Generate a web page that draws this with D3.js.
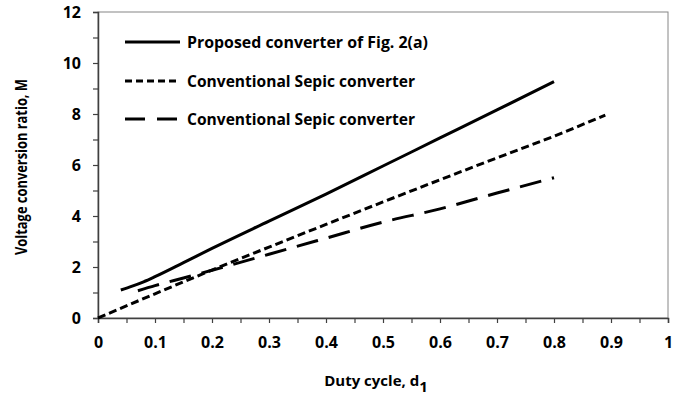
<html>
<head>
  <script src="https://d3js.org/d3.v7.min.js"></script>
  <style>
    body { margin: 0; background: #fff; }
    text { font-family: "Open Sans", sans-serif; font-weight: bold; fill: #000; }
  </style>
</head>
<body>
  <svg id="chart" width="698" height="397"></svg>
  <script>
    // duty cycle values and conversion ratios
    const proposedD = [0.04, 0.06, 0.08, 0.1, 0.15, 0.2, 0.3, 0.4, 0.5, 0.6, 0.7, 0.8];
    const proposedM = [1.1, 1.25, 1.42, 1.62, 2.17, 2.73, 3.8, 4.86, 5.96, 7.06, 8.16, 9.27];

    const sepicD = [0, 0.1, 0.2, 0.3, 0.4, 0.5, 0.6, 0.7, 0.8, 0.89];
    const sepicM = [0, 0.95, 1.88, 2.78, 3.67, 4.55, 5.42, 6.28, 7.13, 7.96];

    const sepic2D = [0.07, 0.1, 0.15, 0.2, 0.3, 0.4, 0.5, 0.6, 0.7, 0.8];
    const sepic2M = [1.07, 1.27, 1.57, 1.87, 2.5, 3.13, 3.76, 4.28, 4.9, 5.5];

    const seriesNames = ["Proposed converter of Fig. 2(a)", "Conventional Sepic converter", "Conventional Sepic converter"];
    const dashes = [null, "8,4", "22,11"];
    const legendDashes = [null, "7,4", "20,12"];

    const xTicks = d3.range(0, 11).map(i => i / 10);
    const yTicks = d3.range(0, 13, 2);

    const svg = d3.select("svg#chart");
    const margins = { top: 12, right: 30, bottom: 79, left: 98 };
    const width = 698, height = 397;

    const xScale = d3.scaleLinear().domain([0, 1]).range([margins.left, width - margins.right]);
    const yScale = d3.scaleLinear().domain([0, 12]).range([height - margins.bottom, margins.top]);

    // frame (top and right)
    svg.append("rect")
      .attr("x", xScale(0)).attr("y", yScale(12))
      .attr("width", xScale(1) - xScale(0)).attr("height", yScale(0) - yScale(12))
      .attr("fill", "none").attr("stroke", "#868686").attr("stroke-width", 1);

    // x axis: labels every 0.1, ticks every 0.05
    const xAxis = d3.axisBottom(xScale)
      .tickValues(d3.range(0, 21).map(i => i / 20))
      .tickSize(5)
      .tickFormat(d => xTicks.some(t => Math.abs(t - d) < 1e-9) ? d3.format("~g")(d) : "");
    const gx = svg.append("g")
      .attr("transform", `translate(0,${yScale(0)})`)
      .call(xAxis);
    gx.select(".domain").attr("stroke", "#404040").attr("stroke-width", 1.5);
    gx.selectAll(".tick line").attr("stroke", "#404040").attr("stroke-width", 1.2);
    gx.selectAll(".tick text").attr("y", 19).attr("dy", "0.71em").style("font-size", "16px");

    // y axis: labels every 2, ticks every 1
    const yAxis = d3.axisLeft(yScale)
      .tickValues(d3.range(0, 13))
      .tickSize(5)
      .tickFormat(d => yTicks.includes(d) ? d : "");
    const gy = svg.append("g")
      .attr("transform", `translate(${xScale(0)},0)`)
      .call(yAxis);
    gy.select(".domain").attr("stroke", "#404040").attr("stroke-width", 1.5);
    gy.selectAll(".tick line").attr("stroke", "#404040").attr("stroke-width", 1.2);
    gy.selectAll(".tick text").attr("x", -17).style("font-size", "16px");

    // curves
    const line = d3.line().x(d => xScale(d[0])).y(d => yScale(d[1])).curve(d3.curveMonotoneX);
    const series = [
      d3.zip(proposedD, proposedM),
      d3.zip(sepicD, sepicM),
      d3.zip(sepic2D, sepic2M)
    ];
    series.forEach((pts, i) => {
      svg.append("path")
        .datum(pts)
        .attr("d", line)
        .attr("fill", "none")
        .attr("stroke", "#000")
        .attr("stroke-width", 3)
        .attr("stroke-dasharray", dashes[i]);
    });

    // legend
    const legendY = [42, 81, 119];
    const legendWidths = [241, 228, 228];
    seriesNames.forEach((name, i) => {
      svg.append("line")
        .attr("x1", 125).attr("x2", 180)
        .attr("y1", legendY[i]).attr("y2", legendY[i])
        .attr("stroke", "#000").attr("stroke-width", 3)
        .attr("stroke-dasharray", legendDashes[i]);
      svg.append("text")
        .attr("x", 187).attr("y", legendY[i])
        .attr("dy", "0.35em")
        .attr("textLength", legendWidths[i])
        .attr("lengthAdjust", "spacingAndGlyphs")
        .style("font-size", "16px")
        .text(name);
    });

    // axis titles
    const xTitle = svg.append("text")
      .attr("x", 376).attr("y", 386)
      .attr("text-anchor", "middle")
      .style("font-size", "15px");
    xTitle.append("tspan").text("Duty cycle, d");
    xTitle.append("tspan").attr("dy", 6).text("1");

    svg.append("text")
      .attr("transform", "rotate(-90)")
      .attr("x", -167).attr("y", 27)
      .attr("text-anchor", "middle")
      .attr("textLength", 176)
      .attr("lengthAdjust", "spacingAndGlyphs")
      .style("font-size", "16.5px")
      .text("Voltage conversion ratio, M");
  </script>
</body>
</html>
